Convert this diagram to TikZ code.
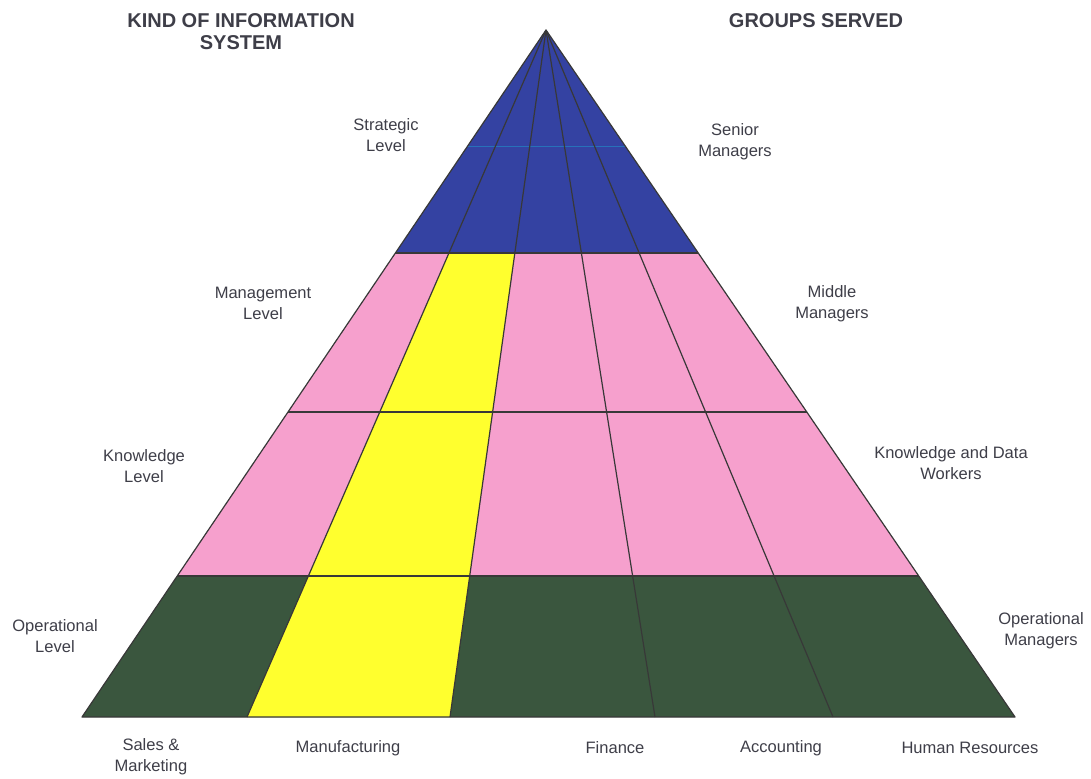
\documentclass[tikz,border=0pt]{standalone}
\usepackage{fontspec}
\setmainfont{Liberation Sans}
\usetikzlibrary{calc}

\definecolor{stratblue}{RGB}{52,66,162}
\definecolor{mgmtpink}{RGB}{246,160,205}
\definecolor{mfgyellow}{RGB}{255,255,46}
\definecolor{opgreen}{RGB}{58,86,62}
\definecolor{labelgray}{RGB}{62,62,72}

\tikzset{every picture/.style={line width=0.75pt},
  lbl/.style={align=center,text=labelgray,inner sep=1pt,font=\fontsize{12.4}{15.8}\selectfont},
  hdr/.style={align=center,text=labelgray,inner sep=1pt,font=\fontsize{15}{16.5}\selectfont\bfseries},
  rim/.style={draw=black!78,line width=0.9pt,line join=round}}

\begin{document}
\begin{tikzpicture}[x=0.75pt,y=0.75pt,yscale=-1,xscale=1]
\useasboundingbox (0,0) rectangle (1091,778);

%Pyramid corners and column feet
\coordinate (apex) at (546,30);
\foreach \n/\x in {0/82,1/247,2/450,3/655,4/833,5/1015}
  \coordinate (b\n) at (\x,717);
%Level boundaries on every column line
\foreach \r/\t in {0/0.3246,1/0.556,2/0.7948,3/1}
  \foreach \c in {0,...,5}
    \coordinate (p\r\c) at ($(apex)!\t!(b\c)$);

%Shape: strategic band
\fill[stratblue] (apex) -- (p00) -- (p05) -- cycle;
%Shape: management and knowledge bands
\fill[mgmtpink] (p00) -- (p05) -- (p25) -- (p20) -- cycle;
%Shape: operational band
\fill[opgreen] (p20) -- (p25) -- (p35) -- (p30) -- cycle;
%Shape: manufacturing column
\fill[mfgyellow] (p01) -- (p02) -- (p32) -- (p31) -- cycle;
%Straight Lines: faint line in the strategic band
\draw[stratblue!75!cyan,line width=0.5pt] ($(apex)!0.17!(b0)$) -- ($(apex)!0.17!(b5)$);

%Straight Lines: columns
\foreach \c in {1,...,4}
  \draw[rim] (apex) -- (b\c);
%Straight Lines: levels
\foreach \r in {0,1,2}
  \draw[rim] (p\r0) -- (p\r5);
%Shape: outline
\draw[rim] (apex) -- (b0) -- (b5) -- cycle;

% Text Node
\node[hdr] (kindhdr) at (241,32) {KIND OF INFORMATION\\SYSTEM};
% Text Node
\node[hdr] (grouphdr) at (816,21) {GROUPS SERVED};
% Text Node
\node[lbl] (strat) at (386,135) {Strategic\\Level};
% Text Node
\node[lbl] (senior) at (735,142) {Senior\\Managers};
% Text Node
\node[lbl] (mgmt) at (263,303) {Management\\Level};
% Text Node
\node[lbl] (middle) at (832,304) {Middle\\Managers};
% Text Node
\node[lbl] (know) at (144,466) {Knowledge\\Level};
% Text Node
\node[lbl] (workers) at (951,463) {Knowledge and Data\\Workers};
% Text Node
\node[lbl] (oper) at (55,636) {Operational\\Level};
% Text Node
\node[lbl] (opmgr) at (1041,631) {Operational\\Managers};
% Text Node
\node[lbl] (sales) at (151,757) {Sales \&\\Marketing};
% Text Node
\node[lbl] (manuf) at (348,748) {Manufacturing};
% Text Node
\node[lbl] (finance) at (615,748) {Finance};
% Text Node
\node[lbl] (account) at (781,748) {Accounting};
% Text Node
\node[lbl] (hr) at (970,748) {Human Resources};

\end{tikzpicture}
\end{document}
